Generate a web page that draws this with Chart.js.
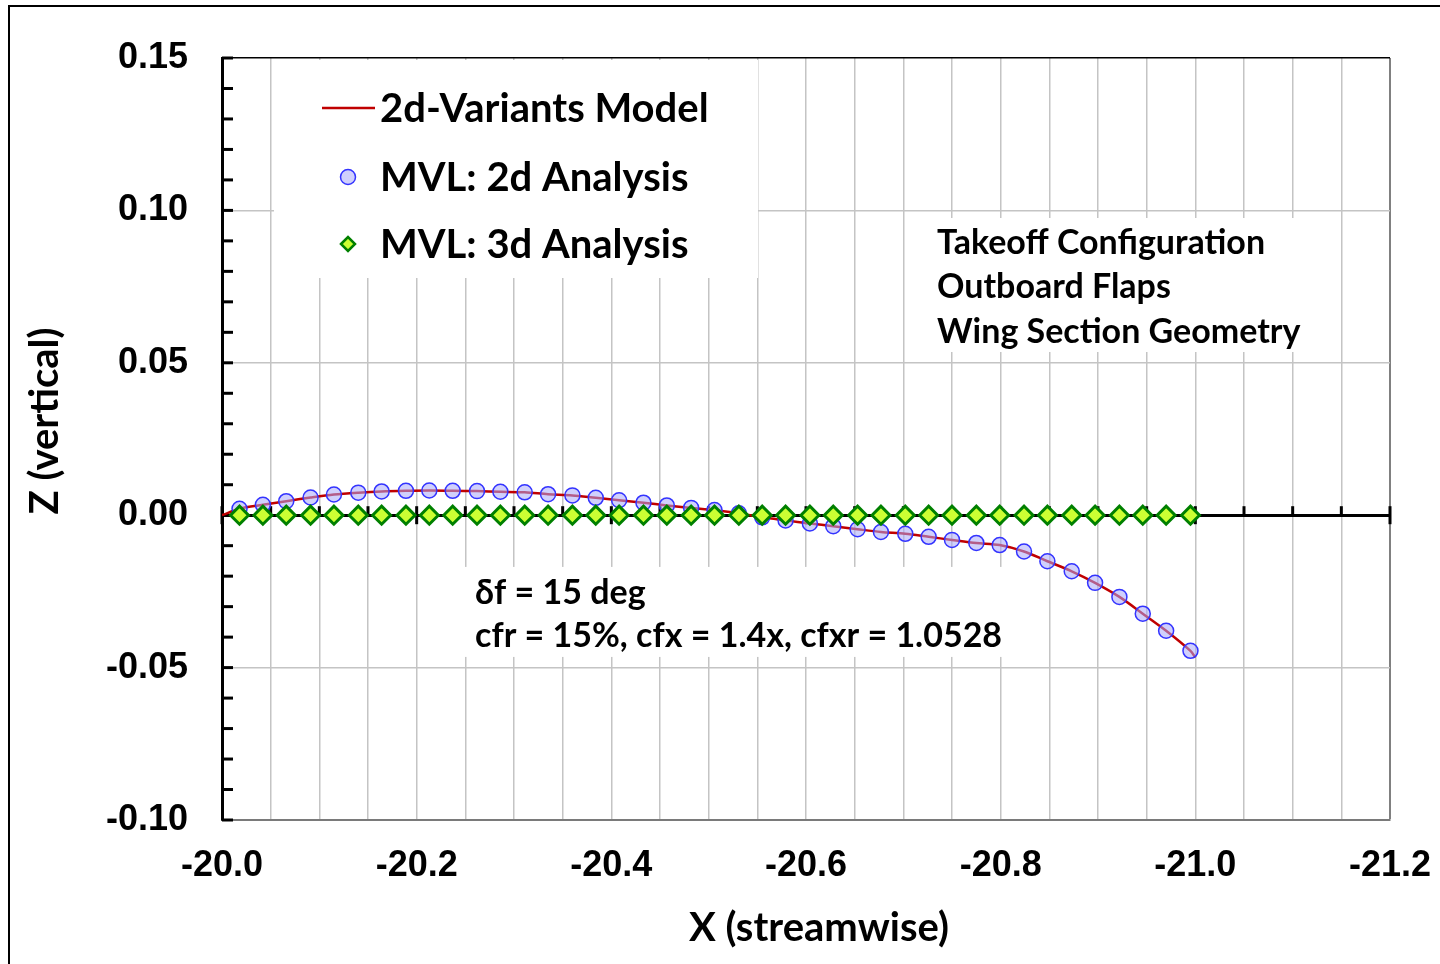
<!DOCTYPE html>
<html>
<head>
<meta charset="utf-8">
<title>Wing Section Geometry</title>
<script src="https://cdn.jsdelivr.net/npm/chart.js@4.4.1/dist/chart.umd.min.js"></script>
<style>
  html, body { margin: 0; padding: 0; background: #fff; overflow: hidden; }
  #wrap { position: relative; width: 1440px; height: 964px; }
  #frame { position: absolute; left: 8px; top: 5px; width: 1440px; height: 964px;
           border: 2px solid #000; box-sizing: border-box; pointer-events: none; }
  canvas { position: absolute; left: 0; top: 0; }
</style>
</head>
<body>
<div id="wrap">
  <canvas id="geomChart" width="1440" height="964"></canvas>
  <div id="frame"></div>
</div>
<script>
"use strict";

// streamwise stations, shared by both MVL runs
var stationX = [-20.018, -20.042, -20.066, -20.091, -20.115, -20.140, -20.164, -20.189, -20.213, -20.237,
                -20.262, -20.286, -20.311, -20.335, -20.360, -20.384, -20.408, -20.433, -20.457, -20.482,
                -20.506, -20.531, -20.555, -20.579, -20.604, -20.628, -20.653, -20.677, -20.702, -20.726,
                -20.750, -20.775, -20.799, -20.824, -20.848, -20.873, -20.897, -20.922, -20.946, -20.970,
                -20.995];

var mvl2dZ = [0.0021, 0.0034, 0.0046, 0.0058, 0.0068, 0.0074, 0.0078, 0.0080, 0.0081, 0.0080,
              0.0079, 0.0077, 0.0075, 0.0069, 0.0065, 0.0057, 0.0049, 0.0041, 0.0032, 0.0024,
              0.0017, 0.0006, -0.0007, -0.0017, -0.0027, -0.0036, -0.0046, -0.0055, -0.0061, -0.0071,
              -0.0081, -0.0091, -0.0098, -0.0119, -0.0151, -0.0184, -0.0222, -0.0268, -0.0323, -0.0379,
              -0.0445];

var mvl3dZ = [0, 0, 0, 0, 0, 0, 0, 0, 0, 0,
              0, 0, 0, 0, 0, 0, 0, 0, 0, 0,
              0, 0, 0, 0, 0, 0, 0, 0, 0, 0,
              0, 0, 0, 0, 0, 0, 0, 0, 0, 0,
              0];

// 2d-variants model curve: leading point, stations, trailing point
var modelX = [-20.0].concat(stationX, [-21.0]);
var modelZ = [0.0].concat(mvl2dZ, [-0.0467]);

var seriesNames = ["2d-Variants Model", "MVL: 2d Analysis", "MVL: 3d Analysis"];
var noteLines = ["Takeoff Configuration", "Outboard Flaps", "Wing Section Geometry"];
var flapLines = ["\u03b4f = 15 deg", "cfr = 15%, cfx = 1.4x, cfxr = 1.0528"];

const xMin = -21.2, xMax = -20.0;
const yMin = -0.10, yMax = 0.15;

function toPoints(xs, ys) {
    var out = [];
    for (var i = 0; i < xs.length; i++) out.push({x: xs[i], y: ys[i]});
    return out;
}

const textFont = "Lato, 'DejaVu Sans', sans-serif";
const numFont = "'Liberation Sans', Arial, sans-serif";

var lineColor = "#c00000";
var circleFill = "rgba(170,170,250,0.55)";
var circleEdge = "#3333ff";
var diamondFill = "#ccff33";
var diamondEdge = "#008000";

var decor = {
    id: "decor",
    beforeDatasetsDraw: function (chart) {
        var c = chart.ctx, xs = chart.scales.x, ys = chart.scales.y, a = chart.chartArea;
        c.save();
        // white backgrounds of legend and text boxes
        c.fillStyle = "#fff";
        c.fillRect(a.left + 52, a.top + 2, 484, 218);
        c.font = "bold 34px " + textFont;
        var nx = xs.getPixelForValue(-20.7346), ny = ys.getPixelForValue(0.0893);
        var w1 = 0;
        noteLines.forEach(function (t) { w1 = Math.max(w1, c.measureText(t).width); });
        c.fillRect(nx - 12, ny - 25, w1 + 26, 44.5 * 2 + 45);
        var fx = xs.getPixelForValue(-20.26), fy = ys.getPixelForValue(-0.0255);
        var w2 = 0;
        flapLines.forEach(function (t) { w2 = Math.max(w2, c.measureText(t).width); });
        c.fillRect(fx - 12, fy - 26, w2 + 27, 90);

        // tick marks on the x axis (crossing at z = 0)
        var y0 = ys.getPixelForValue(0);
        c.strokeStyle = "#000";
        c.lineWidth = 3;
        for (var i = 0; i <= 24; i++) {
            var px = xs.getPixelForValue(xMax - i * 0.05);
            c.beginPath();
            c.moveTo(px, y0 - 9);
            c.lineTo(px, i % 4 === 0 ? y0 + 9 : y0);
            c.stroke();
        }
        // minor ticks on the z axis
        for (var j = 0; j <= 25; j++) {
            var py = ys.getPixelForValue(yMin + j * 0.01);
            c.beginPath();
            c.moveTo(a.left, py);
            c.lineTo(a.left + 11, py);
            c.stroke();
        }
        c.restore();
    },
    afterDatasetsDraw: function (chart) {
        var c = chart.ctx, xs = chart.scales.x, ys = chart.scales.y, a = chart.chartArea;
        c.save();
        c.textBaseline = "middle";
        c.textAlign = "left";

        // legend
        var lx = a.left + 126, tx = a.left + 158;
        var rows = [a.top + 50, a.top + 119, a.top + 186];
        c.strokeStyle = lineColor;
        c.lineWidth = 2.5;
        c.beginPath();
        c.moveTo(a.left + 100, rows[0]);
        c.lineTo(a.left + 153, rows[0]);
        c.stroke();
        c.fillStyle = circleFill; c.strokeStyle = circleEdge; c.lineWidth = 1.5;
        Chart.helpers.drawPoint(c, {pointStyle: "circle", radius: 7.5, borderWidth: 1.5}, lx, rows[1]);
        c.fillStyle = diamondFill; c.strokeStyle = diamondEdge; c.lineWidth = 2.5;
        Chart.helpers.drawPoint(c, {pointStyle: "rectRot", radius: 7, borderWidth: 2.5}, lx, rows[2]);

        c.fillStyle = "#000";
        c.font = "bold 40px " + textFont;
        for (var k = 0; k < seriesNames.length; k++) c.fillText(seriesNames[k], tx, rows[k] + 1);

        // annotations
        c.font = "bold 34px " + textFont;
        var nx = xs.getPixelForValue(-20.7346), ny = ys.getPixelForValue(0.0893);
        noteLines.forEach(function (t, i) { c.fillText(t, nx, ny + i * 44.5); });
        var fx = xs.getPixelForValue(-20.26), fy = ys.getPixelForValue(-0.0255);
        flapLines.forEach(function (t, i) { c.fillText(t, fx, fy + i * 43); });

        // axis titles
        c.font = "bold 40px " + textFont;
        c.textAlign = "center";
        c.fillText("X (streamwise)", 819, 928);
        c.translate(45, 421);
        c.rotate(-Math.PI / 2);
        c.fillText("Z (vertical)", 0, 0);
        c.restore();
    }
};

var ctx = document.getElementById("geomChart");

var chart = new Chart(ctx, {
    type: "scatter",
    data: {
        datasets: [{
            label: seriesNames[0],
            data: toPoints(modelX, modelZ),
            showLine: true,
            borderColor: lineColor,
            borderWidth: 2.5,
            pointRadius: 0,
            tension: 0.3,
            order: 3
        }, {
            label: seriesNames[1],
            data: toPoints(stationX, mvl2dZ),
            pointStyle: "circle",
            pointRadius: 7.5,
            backgroundColor: circleFill,
            borderColor: circleEdge,
            borderWidth: 1.5,
            order: 2
        }, {
            label: seriesNames[2],
            data: toPoints(stationX, mvl3dZ),
            pointStyle: "rectRot",
            pointRadius: 9,
            backgroundColor: diamondFill,
            borderColor: diamondEdge,
            borderWidth: 3,
            order: 1
        }]
    },
    options: {
        responsive: false,
        animation: false,
        devicePixelRatio: 1,
        layout: { padding: { left: 0, top: 58, right: 50, bottom: 0 } },
        plugins: { legend: { display: false }, tooltip: { enabled: false } },
        scales: {
            x: {
                type: "linear",
                reverse: true,
                min: xMin,
                max: xMax,
                afterFit: function (s) {
                    s.height = 144;
                    s.paddingLeft = 0;
                    s.paddingRight = 0;
                },
                ticks: {
                    stepSize: 0.05,
                    autoSkip: false,
                    maxRotation: 0,
                    padding: 24,
                    color: "#000",
                    font: { family: numFont, size: 36, weight: "bold" },
                    callback: function (v) {
                        return Math.abs(v * 5 - Math.round(v * 5)) < 1e-6 ? Number(v).toFixed(1) : "";
                    }
                },
                grid: {
                    drawTicks: false,
                    color: function (c) {
                        return c.tick && Math.abs(c.tick.value - xMin) < 1e-6 ? "#808080" : "#c4c4c4";
                    },
                    lineWidth: function (c) {
                        return c.tick && Math.abs(c.tick.value - xMin) < 1e-6 ? 2 : 1.5;
                    }
                },
                border: { display: true, color: "#7a7a7a", width: 2 }
            },
            y: {
                min: yMin,
                max: yMax,
                afterFit: function (s) { s.width = 222; },
                ticks: {
                    stepSize: 0.05,
                    padding: 34,
                    color: "#000",
                    font: { family: numFont, size: 36, weight: "bold" },
                    callback: function (v) {
                        return Math.abs(v) < 1e-9 ? "0.00" : Number(v).toFixed(2);
                    }
                },
                grid: {
                    drawTicks: false,
                    color: function (c) {
                        if (!c.tick) return "#c4c4c4";
                        if (Math.abs(c.tick.value) < 1e-9) return "#000";
                        if (Math.abs(c.tick.value - yMax) < 1e-9) return "#000";
                        if (Math.abs(c.tick.value - yMin) < 1e-9) return "#7a7a7a";
                        return "#c4c4c4";
                    },
                    lineWidth: function (c) {
                        if (c.tick && Math.abs(c.tick.value) < 1e-9) return 3;
                        return 1.5;
                    }
                },
                border: { display: true, color: "#000", width: 3 }
            }
        }
    },
    plugins: [decor]
});
</script>
</body>
</html>
